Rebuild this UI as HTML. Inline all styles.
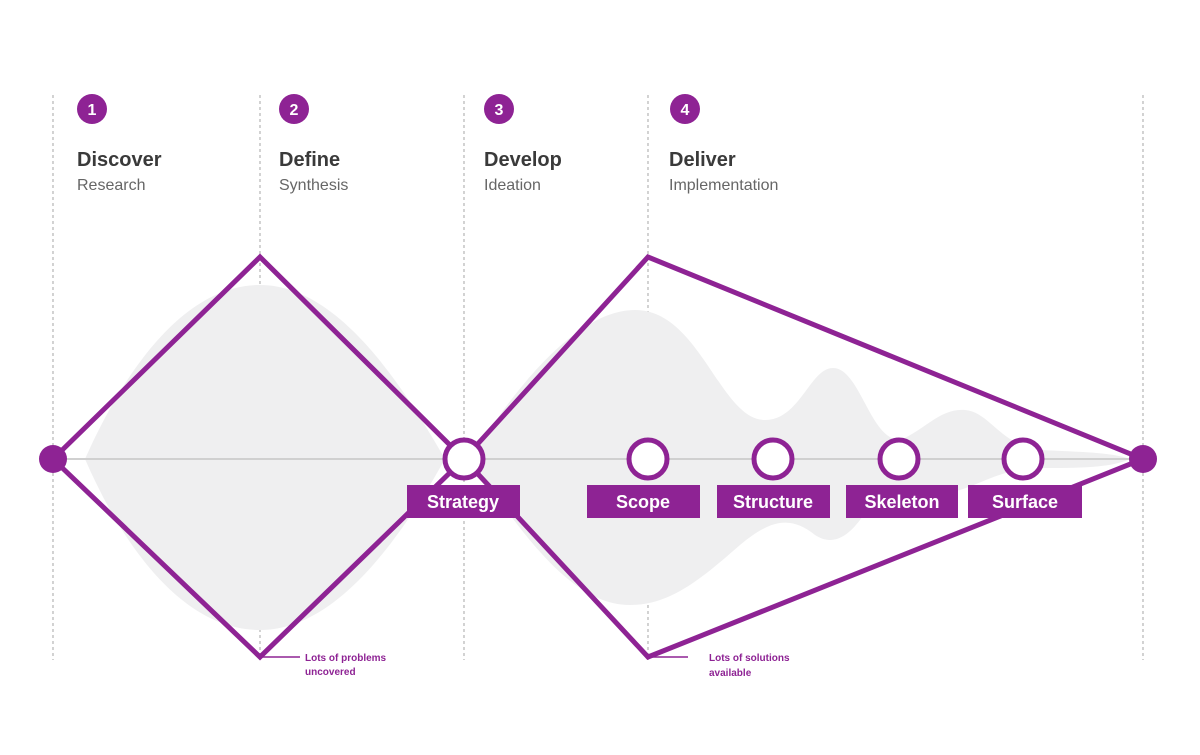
<!DOCTYPE html>
<html><head><style>
body{margin:0;background:#fff;width:1200px;height:750px;overflow:hidden;font-family:"Liberation Sans",sans-serif}
</style></head><body>
<svg width="1200" height="750" viewBox="0 0 1200 750" xmlns="http://www.w3.org/2000/svg" font-family="Liberation Sans, sans-serif">
<g stroke="#bbb" stroke-width="1.3" stroke-dasharray="3,3">
<line x1="53" y1="95" x2="53" y2="660"/><line x1="260" y1="95" x2="260" y2="660"/>
<line x1="464" y1="95" x2="464" y2="660"/><line x1="648" y1="95" x2="648" y2="660"/>
<line x1="1143" y1="95" x2="1143" y2="660"/>
</g>
<path d="M85,459 C120,380 180,285 260,285 C340,285 405,390 445,459 C405,530 340,630 260,630 C180,630 120,540 85,459 Z" fill="#efeff0"/>
<path d="M470,459 C520,380 580,310 635,310 C700,310 720,420 765,420 C800,420 810,368 833,368 C860,368 870,440 900,440 C925,430 940,408 965,410 C990,412 1000,445 1040,450 C1080,452 1110,452 1130,459 C1110,468 1080,468 1040,468 C1000,470 990,480 960,490 C920,500 880,490 860,520 C845,540 830,545 815,535 C790,515 770,520 740,545 C700,580 670,605 630,605 C570,605 520,530 470,459 Z" fill="#efeff0"/>
<line x1="53" y1="459" x2="1143" y2="459" stroke="#d0d0d0" stroke-width="2"/>
<g stroke="#8e2394" stroke-width="5" fill="none" stroke-linejoin="miter">
<path d="M53,459 L260,257 L464,459 L260,657 Z"/>
<path d="M464,459 L648,257 L1143,459 L648,657 Z"/>
</g>
<g stroke="#8e2394" stroke-width="1.5">
<line x1="260" y1="657" x2="300" y2="657"/><line x1="648" y1="657" x2="688" y2="657"/>
</g>
<g fill="#8e2394" font-size="10" font-weight="bold">
<text x="305" y="661">Lots of problems</text><text x="305" y="675">uncovered</text>
<text x="709" y="661">Lots of solutions</text><text x="709" y="676">available</text>
</g>
<circle cx="53" cy="459" r="14" fill="#8e2394"/>
<circle cx="1143" cy="459" r="14" fill="#8e2394"/>
<g fill="#fff" stroke="#8e2394" stroke-width="5">
<circle cx="464" cy="459" r="19"/><circle cx="648" cy="459" r="19"/>
<circle cx="773" cy="459" r="19"/><circle cx="899" cy="459" r="19"/><circle cx="1023" cy="459" r="19"/>
</g>
<g fill="#8e2394">
<rect x="407" y="485" width="113" height="33"/><rect x="587" y="485" width="113" height="33"/>
<rect x="717" y="485" width="113" height="33"/><rect x="846" y="485" width="112" height="33"/>
<rect x="968" y="485" width="114" height="33"/>
</g>
<g fill="#fff" font-size="18" font-weight="bold" text-anchor="middle">
<text x="463" y="508">Strategy</text><text x="643" y="508">Scope</text>
<text x="773" y="508">Structure</text><text x="902" y="508">Skeleton</text><text x="1025" y="508">Surface</text>
</g>
<g fill="#8e2394"><circle cx="92" cy="109" r="15"/><circle cx="294" cy="109" r="15"/><circle cx="499" cy="109" r="15"/><circle cx="685" cy="109" r="15"/></g>
<g fill="#fff" font-size="16" font-weight="bold" text-anchor="middle">
<text x="92" y="115">1</text><text x="294" y="115">2</text><text x="499" y="115">3</text><text x="685" y="115">4</text>
</g>
<g fill="#3a3a3a" font-size="20" font-weight="bold">
<text x="77" y="166">Discover</text><text x="279" y="166">Define</text><text x="484" y="166">Develop</text><text x="669" y="166">Deliver</text>
</g>
<g fill="#666" font-size="16">
<text x="77" y="190">Research</text><text x="279" y="190">Synthesis</text><text x="484" y="190">Ideation</text><text x="669" y="190">Implementation</text>
</g>
</svg>
</body></html>
